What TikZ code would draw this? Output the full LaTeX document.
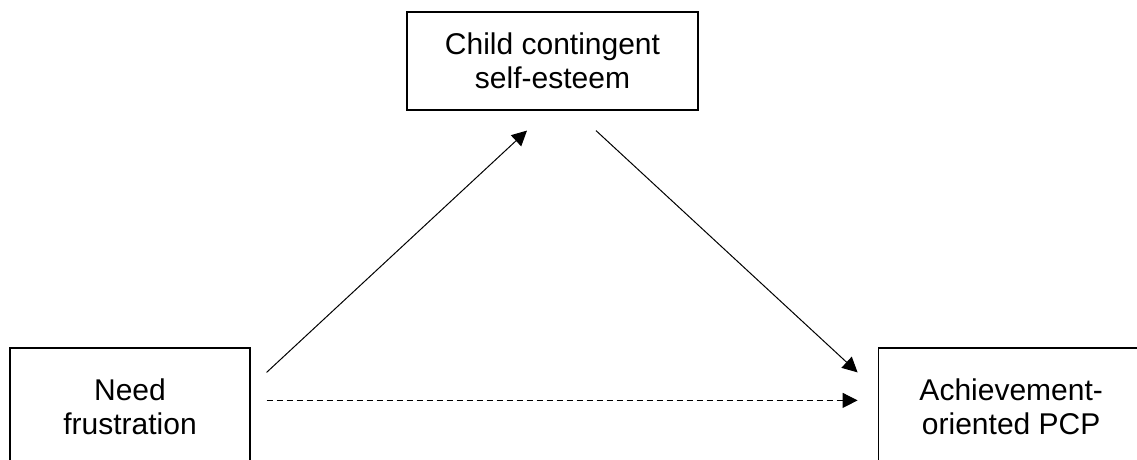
\documentclass[tikz,border=0pt]{standalone}
\usepackage{fontspec}
\setmainfont{Liberation Sans}
\usetikzlibrary{positioning,arrows.meta}
\tikzstyle{block} = [rectangle, minimum height=59pt, text centered, align=center, draw=black, line width=0.6pt, font=\fontsize{15}{17}\selectfont]
\tikzstyle{arrow} = [line width=0.5pt,-{Triangle[length=7.5pt,width=7.5pt]}]

\begin{document}
\begin{tikzpicture}[x=1pt,y=1pt]
\useasboundingbox (0,0) rectangle (568.5,-230);
\node (need) [block, minimum width=120pt] at (65,-203.5) {Need\\frustration};
\node (ach) [block, minimum width=133pt, right=313.5pt of need] {Achievement-\\oriented PCP};
\node (cse) [block, minimum width=145.5pt, minimum height=49pt] at (276.25,-30.5) {Child contingent\\self-esteem};

\draw [arrow] ([xshift=8pt,yshift=-12.5pt]need.north east) -- ([xshift=-12.75pt,yshift=-10pt]cse.south);
\draw [arrow] ([xshift=21.75pt,yshift=-10pt]cse.south) -- ([xshift=-10pt,yshift=-12.5pt]ach.north west);
\draw [arrow, dash pattern=on 3pt off 2pt] ([xshift=8pt,yshift=-26.5pt]need.north east) -- ([xshift=-10pt,yshift=-26.5pt]ach.north west);
\end{tikzpicture}
\end{document}
